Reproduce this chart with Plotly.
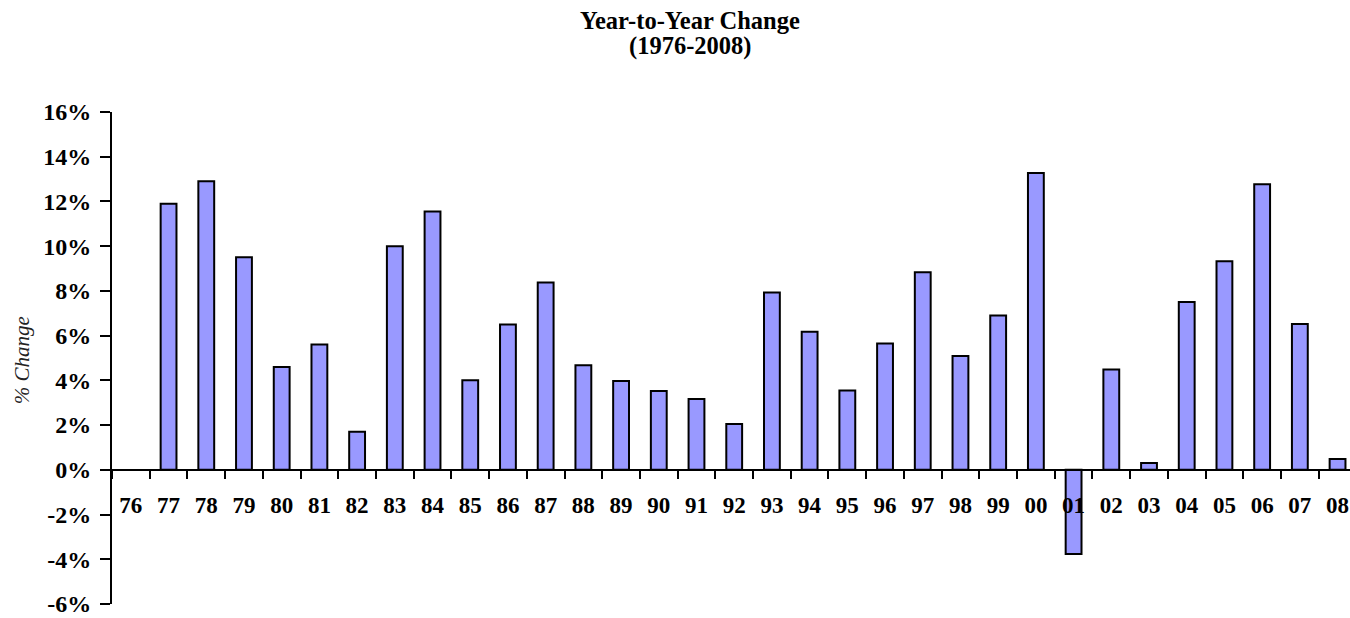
import plotly.graph_objects as go

years = ["76", "77", "78", "79", "80", "81", "82", "83", "84", "85", "86",
         "87", "88", "89", "90", "91", "92", "93", "94", "95", "96", "97",
         "98", "99", "00", "01", "02", "03", "04", "05", "06", "07", "08"]
pct_change = [None, 11.9, 12.9, 9.5, 4.6, 5.6, 1.7, 10.0, 11.55, 4.0, 6.5,
              8.38, 4.68, 3.97, 3.52, 3.17, 2.05, 7.93, 6.17, 3.55, 5.65, 8.83,
              5.09, 6.9, 13.27, -3.76, 4.49, 0.31, 7.5, 9.33, 12.77, 6.52, 0.48]
y_ticks = [-6, -4, -2, 0, 2, 4, 6, 8, 10, 12, 14, 16]

serif = "Liberation Serif, Times New Roman, serif"
xpos = list(range(len(years)))

fig = go.Figure(go.Bar(
    x=xpos, y=pct_change, width=0.42,
    marker=dict(color="#9999FF", line=dict(color="black", width=2)),
    showlegend=False,
))

# plot area: 112..1350 px wide, 111.7..604.4 px tall
fig.update_layout(
    width=1350, height=618,
    plot_bgcolor="white", paper_bgcolor="white",
    margin=dict(l=112, r=0, t=112, b=14),
    font=dict(family=serif, color="black"),
    xaxis=dict(
        range=[-0.5, 32.33], showgrid=False, zeroline=False,
        anchor="free", position=6 / 22,
        showline=True, linecolor="black", linewidth=2,
        tickmode="array", tickvals=xpos, ticktext=years,
        ticks="", ticklabelstandoff=15,
        tickfont=dict(family=serif, size=23, weight="bold"),
        minor=dict(ticks="outside", tick0=0.5, dtick=1, ticklen=8,
                   tickwidth=2, tickcolor="black", showgrid=False),
    ),
    yaxis=dict(
        range=[-6, 16], showgrid=False, zeroline=False,
        showline=True, linecolor="black", linewidth=2,
        tickmode="array", tickvals=y_ticks,
        ticktext=[f"{v}%" for v in y_ticks],
        ticks="outside", ticklen=10, tickwidth=2, tickcolor="black",
        ticklabelstandoff=4,
        tickfont=dict(family=serif, size=24, weight="bold"),
    ),
    annotations=[
        dict(text="<b>Year-to-Year Change</b>", xref="paper", yref="paper",
             x=0.4665, y=1.186, xanchor="center", yanchor="middle",
             showarrow=False, font=dict(family=serif, size=24.5)),
        dict(text="<b>(1976-2008)</b>", xref="paper", yref="paper",
             x=0.4665, y=1.135, xanchor="center", yanchor="middle",
             showarrow=False, font=dict(family=serif, size=24.5)),
        dict(text="<i>% Change</i>", textangle=-90,
             xref="paper", yref="paper", x=-0.072, y=0.495,
             xanchor="center", yanchor="middle",
             showarrow=False, font=dict(family=serif, size=21, color="#222")),
    ],
)

fig.write_html("out.html", config={"displayModeBar": False},
               post_script="document.body.style.margin='0';")
